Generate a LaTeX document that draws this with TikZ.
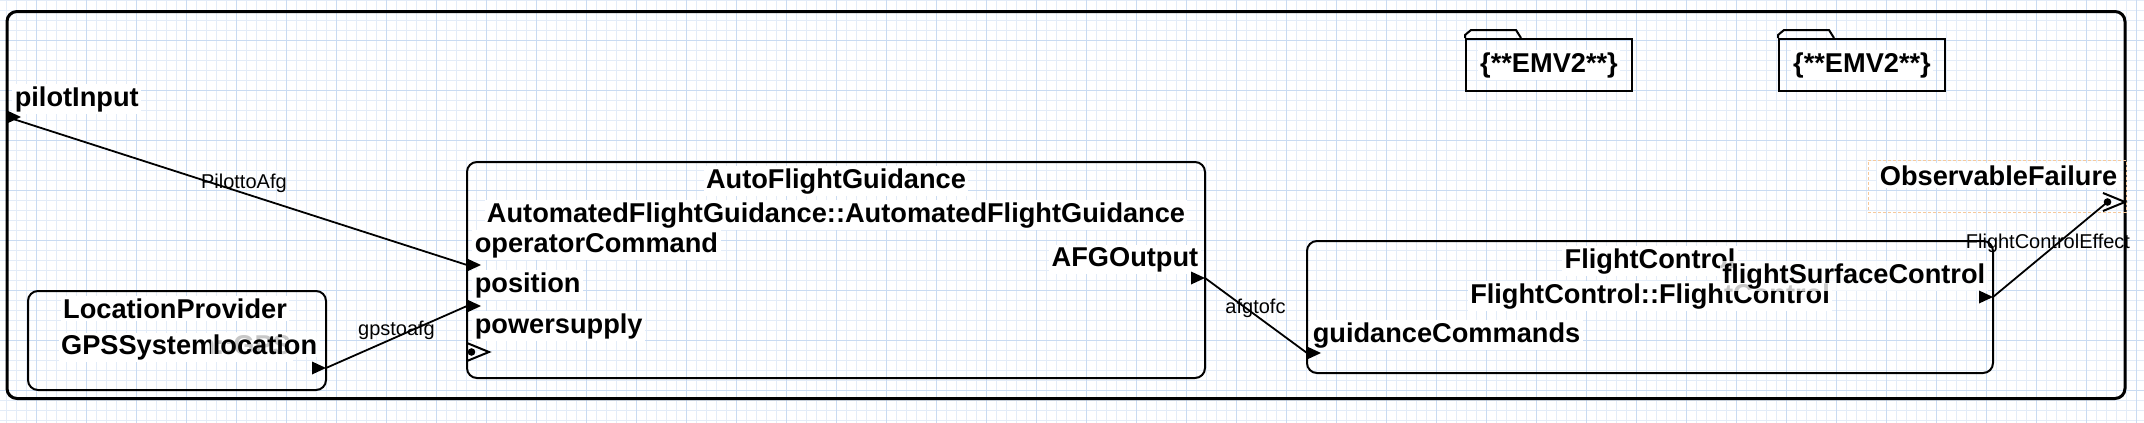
\documentclass[tikz,border=0pt]{standalone}
\usepackage{fontspec}
\setmainfont{Liberation Sans}
\usepackage{xcolor}
\definecolor{gridmin}{HTML}{E3ECF8}
\definecolor{gridmaj}{HTML}{C9DBF2}
\definecolor{failbox}{HTML}{F6C99B}
\usepackage{tikz}
\usetikzlibrary{positioning}
\newcommand{\bigbf}{\bfseries\fontsize{13.6}{16}\selectfont}
\tikzstyle{gridminor} = [line width=0.5pt, gridmin]
\tikzstyle{gridmajor} = [line width=0.5pt, gridmaj]
\tikzstyle{sysframe}  = [draw=black, line width=1.5pt, rounded corners=5pt, inner sep=0pt]
\tikzstyle{comp}      = [draw=black, line width=1pt, rounded corners=5pt, inner sep=0pt]
\tikzstyle{folder}    = [draw=black, line width=1pt, inner sep=0pt,
                         minimum width=83pt, minimum height=26pt]
\tikzstyle{flabel}    = [font=\bigbf, fill=white, inner sep=1.2pt]
\tikzstyle{overlabel} = [flabel, fill opacity=0.78, text opacity=1]
\tikzstyle{conlabel}  = [font=\fontsize{10}{12}\selectfont, inner sep=0pt]
\tikzstyle{conn}      = [line width=0.9pt, black]
% port glyphs
\newcommand{\inport}[1]{\fill (#1) ++(0,-6.5) -- ++(14,6.5) -- ++(-14,6.5) -- cycle;}
\newcommand{\outport}[1]{\fill (#1) ++(-14,-6.5) -- ++(14,6.5) -- ++(-14,6.5) -- cycle;}
\newcommand{\featport}[1]{\draw[line width=1pt] (#1) ++(0,-9) -- ++(22,9) -- ++(-22,9);
  \fill (#1) ++(4.5,0) circle (1.9pt);}

\begin{document}
\begin{tikzpicture}[x=0.5pt, y=-0.5pt]
  \useasboundingbox (0,0) rectangle (2144,423);
  % grid
  \foreach \gx in {6.7,16.7,...,2144} \draw[gridminor] (\gx,0) -- (\gx,423);
  \foreach \gy in {0,10,...,420} \draw[gridminor] (0,\gy) -- (2144,\gy);
  \foreach \gx in {36.7,86.7,...,2144} \draw[gridmajor] (\gx,0) -- (\gx,423);
  \foreach \gy in {40,90,...,420} \draw[gridmajor] (0,\gy) -- (2144,\gy);

  \node[sysframe, minimum width=1059pt, minimum height=193.5pt] (sys) at (1066,205) {};

  % EMV2 annexes
  \node[folder] (emvA) at (1549,65) {};
  \node[folder, right=72.5pt of emvA] (emvB) {};
  \draw[line width=1pt] (emvA.north west) -- ++(0,-3) -- ++(6,-5) -- ++(45,0) -- ++(5,8);
  \draw[line width=1pt] (emvB.north west) -- ++(0,-3) -- ++(6,-5) -- ++(45,0) -- ++(5,8);
  \node[flabel] (emvAtxt) at (emvA) {\{**EMV2**\}};
  \node[flabel] (emvBtxt) at (emvB) {\{**EMV2**\}};

  % subcomponents
  \node[comp, minimum width=369pt, minimum height=108pt]  (afg) at (836,270) {};
  \node[comp, minimum width=149pt, minimum height=49.5pt] (loc) at (177,340.5) {};
  \node[comp, minimum width=343pt, minimum height=66pt]   (fc)  at (1650,307) {};
  \node[draw=failbox, dash pattern=on 1.5pt off 1pt, line width=0.5pt, inner sep=0pt,
        minimum width=129pt, minimum height=26pt] (obsbox) at (1997,186) {};

  % names and classifiers
  \node[flabel, anchor=base] (afgname) at (836,188) {AutoFlightGuidance};
  \node[flabel, anchor=base] (afgtype) at (836,222) {AutomatedFlightGuidance::AutomatedFlightGuidance};
  \node[flabel, anchor=base] (locname) at (175,318) {LocationProvider};
  \node[flabel, anchor=base] (loctype) at (176,354) {GPSSystem::GPS};
  \node[flabel, anchor=base] (fcname)  at (1650,268) {FlightControl};
  \node[flabel, anchor=base] (fctype)  at (1650,303) {FlightControl::FlightControl};

  % feature labels
  \node[flabel, anchor=base west] (pilotlbl) at (12,106)   {pilotInput};
  \node[flabel, anchor=base west] (opcmdlbl) at (472,252)  {operatorCommand};
  \node[flabel, anchor=base west] (poslbl)   at (472,292)  {position};
  \node[flabel, anchor=base west] (powerlbl) at (472,333)  {powersupply};
  \node[flabel, anchor=base east] (afgoutlbl) at (1201,266) {AFGOutput};
  \node[overlabel, anchor=base east] (loclbl) at (320,354) {location};
  \node[flabel, anchor=base west] (guidlbl)  at (1310,342) {guidanceCommands};
  \node[overlabel, anchor=base east] (surflbl) at (1988,283) {flightSurfaceControl};
  \node[flabel, anchor=base east] (obslbl)   at (2120,185) {ObservableFailure};

  % ports
  \coordinate (pilotIn)  at (7,117);
  \coordinate (afgOpCmd) at (467,265);
  \coordinate (afgPos)   at (467,306);
  \coordinate (afgPower) at (467,352);
  \coordinate (afgOut)   at (1205,278);
  \coordinate (locOut)   at (326,368);
  \coordinate (fcGuid)   at (1307,353);
  \coordinate (fcSurf)   at (1993,297);
  \coordinate (obsFail)  at (2103,202);
  \coordinate (obsDot)   at (2107.5,202);
  \inport{pilotIn}
  \inport{afgOpCmd}
  \inport{afgPos}
  \featport{afgPower}
  \outport{afgOut}
  \outport{locOut}
  \inport{fcGuid}
  \outport{fcSurf}
  \featport{obsFail}

  % connections
  \draw[conn] (pilotIn) -- node[conlabel, pos=0.515, yshift=5pt] (c1lbl) {PilottoAfg} (afgOpCmd);
  \draw[conn] (locOut) -- node[conlabel, pos=0.5, yshift=3.5pt] (c2lbl) {gpstoafg} (afgPos);
  \draw[conn] (afgOut) -- node[conlabel, pos=0.495, yshift=3.5pt] (c3lbl) {afgtofc} (fcGuid);
  \draw[conn] (fcSurf) -- node[conlabel, pos=0.48, yshift=4pt] (c4lbl) {FlightControlEffect} (obsDot);
\end{tikzpicture}
\end{document}
